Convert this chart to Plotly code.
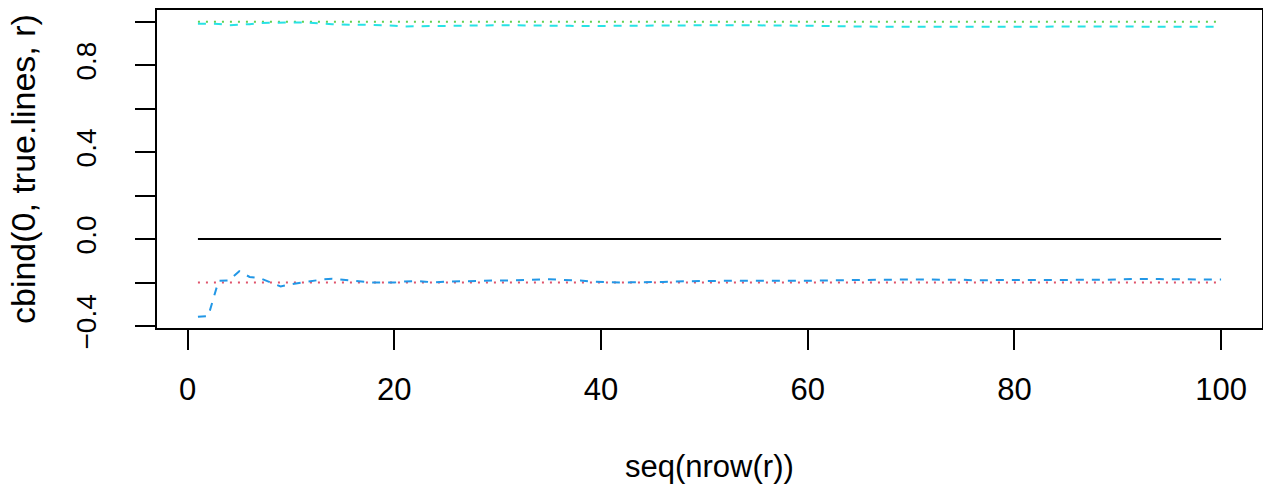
import plotly.graph_objects as go

# x index: seq(nrow(r))
steps = list(range(1, 101))

# true.lines (two constant reference columns)
true_low = [-0.2] * 100
true_high = [1.0] * 100

# r: the two estimated paths
r_low = [
    -0.357, -0.354, -0.192, -0.190, -0.148, -0.174, -0.180, -0.200, -0.218, -0.208,
    -0.200, -0.193, -0.186, -0.182, -0.186, -0.190, -0.196, -0.200, -0.200, -0.200,
    -0.195, -0.193, -0.196, -0.199, -0.196, -0.195, -0.191, -0.190, -0.190, -0.190,
    -0.191, -0.189, -0.189, -0.188, -0.185, -0.187, -0.188, -0.190, -0.195, -0.197,
    -0.200, -0.200, -0.199, -0.199, -0.199, -0.197, -0.195, -0.194, -0.193, -0.192,
    -0.191, -0.191, -0.191, -0.192, -0.192, -0.193, -0.193, -0.194, -0.193, -0.193,
    -0.191, -0.190, -0.189, -0.188, -0.188, -0.188, -0.186, -0.185, -0.186, -0.186,
    -0.185, -0.186, -0.187, -0.186, -0.187, -0.189, -0.189, -0.189, -0.189, -0.189,
    -0.189, -0.189, -0.189, -0.190, -0.190, -0.189, -0.189, -0.188, -0.187, -0.185,
    -0.184, -0.181, -0.183, -0.184, -0.185, -0.186, -0.185, -0.185, -0.186, -0.186,
]
r_high = [
    0.991, 0.991, 0.990, 0.984, 0.986, 0.989, 0.994, 0.996, 0.997, 0.997,
    0.997, 0.996, 0.992, 0.989, 0.986, 0.986, 0.986, 0.986, 0.984, 0.982,
    0.978, 0.979, 0.980, 0.981, 0.981, 0.981, 0.981, 0.982, 0.983, 0.984,
    0.984, 0.984, 0.984, 0.984, 0.984, 0.983, 0.981, 0.980, 0.980, 0.981,
    0.982, 0.983, 0.983, 0.983, 0.983, 0.983, 0.983, 0.983, 0.984, 0.984,
    0.984, 0.985, 0.986, 0.986, 0.985, 0.984, 0.983, 0.983, 0.982, 0.981,
    0.980, 0.980, 0.980, 0.980, 0.978, 0.977, 0.977, 0.977, 0.977, 0.977,
    0.975, 0.974, 0.974, 0.974, 0.974, 0.974, 0.974, 0.974, 0.975, 0.975,
    0.976, 0.977, 0.977, 0.978, 0.978, 0.978, 0.978, 0.978, 0.978, 0.978,
    0.977, 0.977, 0.977, 0.977, 0.977, 0.977, 0.977, 0.977, 0.977, 0.977,
]

x_ticks = [0, 20, 40, 60, 80, 100]
y_ticks = [-0.4, -0.2, 0.0, 0.2, 0.4, 0.6, 0.8, 1.0]
y_labels = ["\u22120.4", "", "0.0", "", "0.4", "", "0.8", ""]

FONT = "Liberation Sans, Arial, sans-serif"
DOT = "2px,6px"
DASH = "8px,8px"

fig = go.Figure()
series = [
    ([0] * 100, "black", "solid"),
    (true_low, "#DF536B", DOT),
    (true_high, "#61D04F", DOT),
    (r_low, "#2297E6", DASH),
    (r_high, "#28E2E5", DASH),
]
for ys, col, dash in series:
    fig.add_trace(go.Scatter(x=steps, y=ys, mode="lines",
                             line=dict(color=col, width=2, dash=dash),
                             showlegend=False, hoverinfo="skip"))

fig.update_layout(
    width=1263, height=491,
    margin=dict(l=157, r=1, t=10, b=163),
    paper_bgcolor="white", plot_bgcolor="white",
    font=dict(family=FONT, size=31, color="black"),
)
fig.update_xaxes(
    range=[-2.96, 103.96], tickvals=x_ticks, ticktext=[str(v) for v in x_ticks],
    automargin=False, showgrid=False, zeroline=False,
    showline=True, linecolor="black", linewidth=1.8, mirror=True,
    ticks="outside", ticklen=20, tickwidth=1.8, tickcolor="black",
    ticklabelstandoff=13,
)
fig.update_yaxes(
    range=[-0.409, 1.054], tickvals=y_ticks, ticktext=y_labels,
    tickangle=-90, tickfont=dict(size=28),
    automargin=False, showgrid=False, zeroline=False,
    showline=True, linecolor="black", linewidth=1.8, mirror=True,
    ticks="outside", ticklen=20, tickwidth=1.8, tickcolor="black",
    ticklabelstandoff=28,
)
fig.add_annotation(text="seq(nrow(r))", xref="paper", yref="paper",
                   x=0.5, y=0, yanchor="middle", yshift=-138,
                   showarrow=False, font=dict(size=31))
fig.add_annotation(text="cbind(0, true.lines, r)", xref="paper", yref="paper",
                   x=0, y=0.5, xanchor="center", xshift=-134, textangle=-90,
                   showarrow=False, font=dict(size=34))

# drop the browser's default body margin so the figure sits at (0, 0)
fix_page = ("document.body.style.margin='0';"
            "var gd=document.getElementById('{plot_id}');"
            "Plotly.relayout(gd,{width:1263,height:491});")

fig.write_html("out.html", config={"responsive": False, "displayModeBar": False},
               post_script=fix_page)
